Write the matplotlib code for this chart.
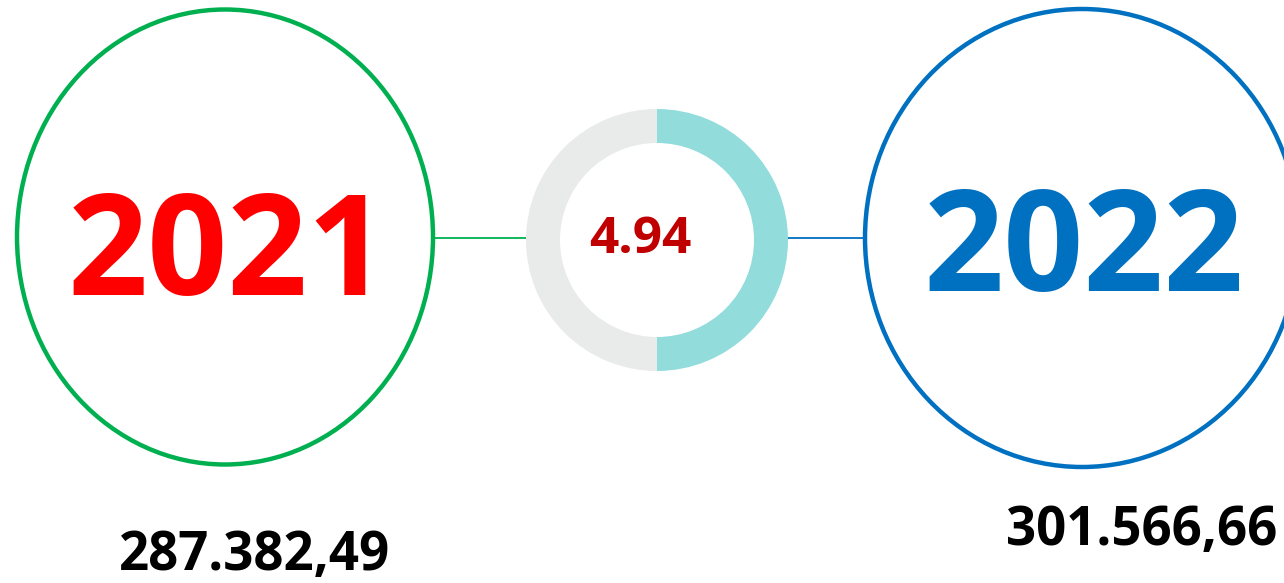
import matplotlib
matplotlib.use("Agg")
import matplotlib.pyplot as plt
from matplotlib.patches import Ellipse

# Data
years = ["2021", "2022"]
totals = ["287.382,49", "301.566,66"]
growth_label = "4.94"
donut_shares = [50, 50]

year_colors = ["#FF0000", "#0070C0"]
ring_colors = ["#00B050", "#0070C0"]
donut_colors = ["#92DCDC", "#E9EAEA"]

W, H = 1284, 583
fig = plt.figure(figsize=(W / 100, H / 100), dpi=100)
ax = fig.add_axes([0, 0, 1, 1])
ax.set_xlim(0, W)
ax.set_ylim(0, H)
ax.axis("off")

def Y(y):
    return H - y

font = "Open Sans"

# connecting lines
ax.plot([433, 526], [Y(238), Y(238)], color=ring_colors[0], lw=1.3, zorder=1)
ax.plot([788, 866], [Y(238), Y(238)], color=ring_colors[1], lw=1.3, zorder=1)

# big ellipses
centers = [(225, 237), (1082, 238)]
sizes = [(416, 455), (434, 458)]
for (cx, cy), (w, h), c in zip(centers, sizes, ring_colors):
    ax.add_patch(Ellipse((cx, Y(cy)), w, h, fill=False, ec=c, lw=3.2, zorder=2))

# donut
ax.pie(donut_shares, colors=donut_colors, startangle=90, counterclock=False,
       radius=131, center=(657, Y(240)), wedgeprops=dict(width=34, linewidth=0),
       frame=True)
ax.set_xlim(0, W)
ax.set_ylim(0, H)
ax.axis("off")

# texts
ax.text(228, Y(259), years[0], color=year_colors[0], fontsize=101, fontweight="bold",
        family=font, ha="center", va="center")
ax.text(1084, Y(255), years[1], color=year_colors[1], fontsize=101, fontweight="bold",
        family=font, ha="center", va="center")
ax.text(640, Y(240), growth_label, color="#C00000", fontsize=37, fontweight="bold",
        family=font, ha="center", va="center")
ax.text(255, Y(556), totals[0], color="black", fontsize=38, fontweight="bold",
        family=font, ha="center", va="center")
ax.text(1142, Y(531), totals[1], color="black", fontsize=38, fontweight="bold",
        family=font, ha="center", va="center")

fig.savefig("out.png", dpi=100, facecolor="white")
